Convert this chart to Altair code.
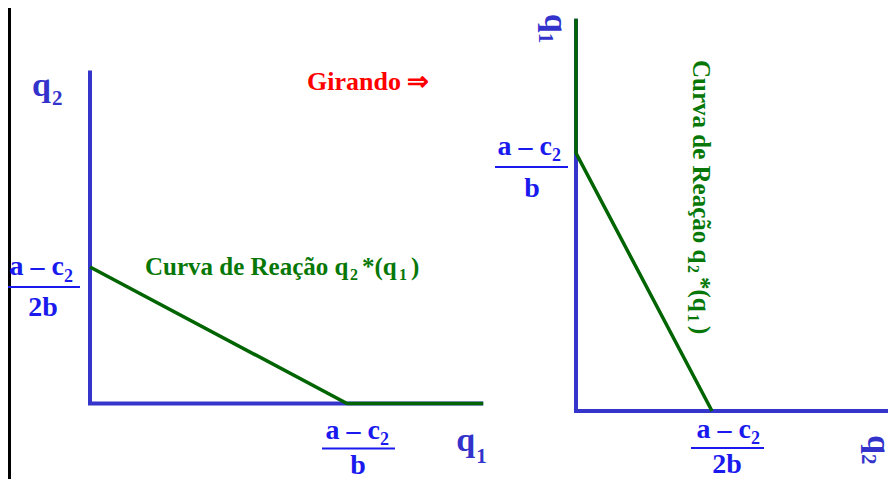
import altair as alt
import pandas as pd

# ---------------- data (normalised so that (a - c2)/b = 1) ----------------
K = 1.0            # (a - c2) / b
HALF_K = K / 2     # (a - c2) / 2b

# left panel: q1 horizontal, q2 vertical
left_curve_q1 = [0.0, K, 1.53]
left_curve_q2 = [HALF_K, 0.0, 0.0]
left_axis_q1 = [0.0, 0.0, 1.53]
left_axis_q2 = [1.22, 0.0, 0.0]

# right panel (rotated): q2 horizontal, q1 vertical
right_curve_q2 = [0.0, 0.0, HALF_K]
right_curve_q1 = [1.52, K, 0.0]
right_axis_q2 = [0.0, 0.0, 1.18]
right_axis_q1 = [1.52, 0.0, 0.0]

# text
curve_label = ["Curva de Reação q", "2", "*(q", "1", ")"]
frac_num = ["a – c", "2"]
frac_den_b = "b"
frac_den_2b = "2b"
axis_q1 = ["q", "1"]
axis_q2 = ["q", "2"]
turn_label = "Girando ⇒"

# ---------------- layout / style ----------------
W, H = 880, 471
FONT = "Liberation Serif"
AXIS_BLUE = "#3535CC"
TEXT_BLUE = "#1A1AEE"
LABEL_BLUE = "#3333CC"
LINE_GREEN = "#006400"
TEXT_GREEN = "#077807"
RED = "#FF0000"


def scales(origin, unit):
    ox, oy = origin
    ux, uy = unit
    xs = alt.Scale(domain=[-ox / ux, (W - ox) / ux], nice=False, zero=False)
    ys = alt.Scale(domain=[-(H - oy) / uy, oy / uy], nice=False, zero=False)
    return xs, ys


LXS, LYS = scales((82, 395.5), (257, 273))
RXS, RYS = scales((568, 403), (272, 258))


def enc(chart, xs, ys, **extra):
    return chart.encode(
        x=alt.X("x:Q", scale=xs, axis=None),
        y=alt.Y("y:Q", scale=ys, axis=None),
        **extra,
    )


def polyline(xv, yv, xs, ys, color, width):
    df = pd.DataFrame({"x": xv, "y": yv, "o": list(range(len(xv)))})
    return enc(
        alt.Chart(df).mark_line(color=color, strokeWidth=width,
                                strokeJoin="miter", strokeCap="butt"),
        xs, ys, order="o:Q")


def text(xv, yv, t, xs, ys, size, color, xo, yo, align="left", angle=0):
    df = pd.DataFrame({"x": [xv], "y": [yv], "t": [t]})
    return enc(
        alt.Chart(df).mark_text(font=FONT, fontWeight="bold", fontSize=size,
                                color=color, align=align, baseline="alphabetic",
                                angle=angle, xOffset=xo, yOffset=yo),
        xs, ys, text="t:N")


def bar(xv, yv, xs, ys, xo, x2o, yo):
    df = pd.DataFrame({"x": [xv], "x2": [xv], "y": [yv]})
    return alt.Chart(df).mark_rule(color=TEXT_BLUE, strokeWidth=2,
                                   xOffset=xo, x2Offset=x2o, yOffset=yo).encode(
        x=alt.X("x:Q", scale=xs, axis=None),
        x2="x2:Q",
        y=alt.Y("y:Q", scale=ys, axis=None),
    )


# ---------------- left panel ----------------
A = (0.0, HALF_K)                      # q2 intercept
B = (K, 0.0)                           # q1 intercept
T = (0.0, left_axis_q2[0])             # top of q2 axis
E = (left_axis_q1[-1], 0.0)            # end of q1 axis

left_layers = [
    polyline(left_axis_q1, left_axis_q2, LXS, LYS, AXIS_BLUE, 4),
    polyline(left_curve_q1, left_curve_q2, LXS, LYS, LINE_GREEN, 3.5),
    # axis labels
    text(*T, axis_q2[0], LXS, LYS, 34, LABEL_BLUE, -58, 26),
    text(*T, axis_q2[1], LXS, LYS, 21, LABEL_BLUE, -38, 35),
    text(*E, axis_q1[0], LXS, LYS, 34, LABEL_BLUE, -27, 47),
    text(*E, axis_q1[1], LXS, LYS, 21, LABEL_BLUE, -7, 59),
    # fraction (a-c2)/2b on q2 axis
    text(*A, frac_num[0], LXS, LYS, 28, TEXT_BLUE, -26, 8, align="right"),
    text(*A, frac_num[1], LXS, LYS, 18, TEXT_BLUE, -26, 15),
    bar(*A, LXS, LYS, -82, -10, 20),
    text(*A, frac_den_2b, LXS, LYS, 28, TEXT_BLUE, -47, 49, align="center"),
    # fraction (a-c2)/b on q1 axis
    text(*B, frac_num[0], LXS, LYS, 28, TEXT_BLUE, 33, 35, align="right"),
    text(*B, frac_num[1], LXS, LYS, 18, TEXT_BLUE, 33, 41),
    bar(*B, LXS, LYS, -25, 48, 45),
    text(*B, frac_den_b, LXS, LYS, 28, TEXT_BLUE, 11, 70, align="center"),
    # curve label
    text(*A, curve_label[0], LXS, LYS, 25, TEXT_GREEN, 55, 8),
    text(*A, curve_label[1], LXS, LYS, 16, TEXT_GREEN, 260, 13),
    text(*A, curve_label[2], LXS, LYS, 25, TEXT_GREEN, 272, 8),
    text(*A, curve_label[3], LXS, LYS, 16, TEXT_GREEN, 309, 13),
    text(*A, curve_label[4], LXS, LYS, 25, TEXT_GREEN, 321, 8),
    # rotation note
    text(*T, turn_label, LXS, LYS, 26, RED, 217, 20),
]

# slide border on the left edge
border = alt.Chart(pd.DataFrame({"v": [0]})).mark_rule(color="black", strokeWidth=3).encode(
    x=alt.value(1.5), y=alt.value(0), y2=alt.value(H))

left_panel = alt.layer(border, *left_layers)

# ---------------- right panel ----------------
P = (0.0, K)                           # q1 intercept (vertical)
Q = (HALF_K, 0.0)                      # q2 intercept (horizontal)
T2 = (0.0, right_axis_q1[0])           # top of q1 axis
E2 = (right_axis_q2[-1], 0.0)          # end of q2 axis

right_layers = [
    polyline(right_axis_q2, right_axis_q1, RXS, RYS, AXIS_BLUE, 4),
    polyline(right_curve_q2, right_curve_q1, RXS, RYS, LINE_GREEN, 3.5),
    # rotated axis labels
    text(*T2, axis_q1[0], RXS, RYS, 34, LABEL_BLUE, -31, -5, angle=90),
    text(*T2, axis_q1[1], RXS, RYS, 21, LABEL_BLUE, -37, 14, angle=90),
    text(*E2, axis_q2[0], RXS, RYS, 34, LABEL_BLUE, -29, 24, angle=90),
    text(*E2, axis_q2[1], RXS, RYS, 21, LABEL_BLUE, -35, 43, angle=90),
    # fraction (a-c2)/b on q1 axis
    text(*P, frac_num[0], RXS, RYS, 28, TEXT_BLUE, -24, 2, align="right"),
    text(*P, frac_num[1], RXS, RYS, 18, TEXT_BLUE, -24, 8),
    bar(*P, RXS, RYS, -81, -8, 14),
    text(*P, frac_den_b, RXS, RYS, 28, TEXT_BLUE, -44, 44, align="center"),
    # fraction (a-c2)/2b on q2 axis
    text(*Q, frac_num[0], RXS, RYS, 28, TEXT_BLUE, 39, 27, align="right"),
    text(*Q, frac_num[1], RXS, RYS, 18, TEXT_BLUE, 39, 33),
    bar(*Q, RXS, RYS, -21, 52, 37),
    text(*Q, frac_den_2b, RXS, RYS, 28, TEXT_BLUE, 15, 62, align="center"),
    # rotated curve label
    text(*P, curve_label[0], RXS, RYS, 25, TEXT_GREEN, 117, -93, angle=90),
    text(*P, curve_label[1], RXS, RYS, 16, TEXT_GREEN, 112, 112, angle=90),
    text(*P, curve_label[2], RXS, RYS, 25, TEXT_GREEN, 117, 124, angle=90),
    text(*P, curve_label[3], RXS, RYS, 16, TEXT_GREEN, 112, 161, angle=90),
    text(*P, curve_label[4], RXS, RYS, 25, TEXT_GREEN, 117, 173, angle=90),
]

right_panel = alt.layer(*right_layers)

chart = (
    alt.layer(left_panel, right_panel)
    .resolve_scale(x="independent", y="independent")
    .properties(width=W, height=H, padding=0,
                autosize=alt.AutoSizeParams(type="none"),
                background="white")
    .configure_view(stroke=None)
)

chart.save("out.html", embed_options={"renderer": "svg", "actions": False})
